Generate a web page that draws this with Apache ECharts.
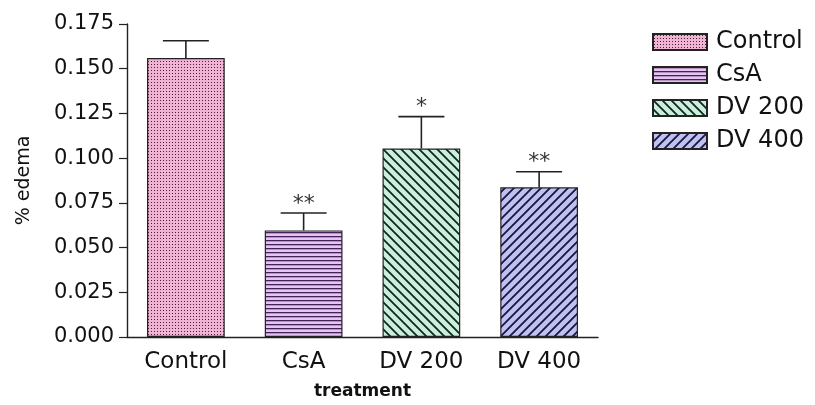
<!DOCTYPE html>
<html>
<head>
<meta charset="utf-8">
<script src="https://cdn.jsdelivr.net/npm/echarts@6/dist/echarts.min.js"></script>
<style>html,body{margin:0;padding:0;background:#fff}#c{width:815px;height:405px}</style>
</head>
<body>
<div id="c"></div>
<script>
// ---- data ----
var categories = ['Control', 'CsA', 'DV 200', 'DV 400'];
var means = [0.156, 0.0596, 0.1054, 0.0837];
var sem = [0.0096, 0.0097, 0.0178, 0.0087];
var signif = ['', '**', '*', '**'];
var yTicks = [0, 0.025, 0.05, 0.075, 0.1, 0.125, 0.15, 0.175];

// ---- patterns (style only) ----
function pat(w, h, bg, draw) {
  var c = document.createElement('canvas');
  c.width = w; c.height = h;
  var g = c.getContext('2d');
  g.fillStyle = bg; g.fillRect(0, 0, w, h);
  draw(g);
  return { image: c, repeat: 'repeat' };
}
function diag(w, bg, fg, back) {
  return pat(w, w, bg, function (g) {
    g.strokeStyle = fg; g.lineWidth = 1.8; g.beginPath();
    for (var k = -1; k <= 1; k++) {
      if (back) { g.moveTo(k * w - 2, -2); g.lineTo(k * w + w + 2, w + 2); }
      else { g.moveTo(k * w - 2, w + 2); g.lineTo(k * w + w + 2, -2); }
    }
    g.stroke();
  });
}
var patterns = [
  pat(3, 3, '#f1b3d3', function (g) { g.fillStyle = '#4a2038'; g.fillRect(1, 1, 1, 1); }),
  pat(4, 4, '#e6c3f0', function (g) { g.fillStyle = '#40245a'; g.fillRect(0, 0, 4, 1.3); }),
  diag(9, '#c9f0dd', '#15241e', true),
  diag(9, '#c0c0f2', '#16163a', false)
];

var font = 'DejaVu Sans, Liberation Sans, sans-serif';
var series = categories.map(function (name, i) {
  var d = categories.map(function (_, j) { return j === i ? means[i] : '-'; });
  return {
    name: name, type: 'bar', data: d, barWidth: '66%', barGap: '-100%',
    itemStyle: { color: patterns[i], borderColor: '#222', borderWidth: 1.2 },
    z: 2
  };
});
series.push({
  type: 'custom', name: 'err', z: 5,
  data: categories.map(function (c, i) { return [i, means[i], sem[i]]; }),
  renderItem: function (params, api) {
    var x = api.value(0), m = api.value(1), e = api.value(2);
    var top = api.coord([x, m]);
    var cap = api.coord([x, m + e]);
    var hw = 23;
    var ch = [
      { type: 'line', shape: { x1: cap[0], y1: top[1], x2: cap[0], y2: cap[1] }, style: { stroke: '#222', lineWidth: 1.6 } },
      { type: 'line', shape: { x1: cap[0] - hw, y1: cap[1], x2: cap[0] + hw, y2: cap[1] }, style: { stroke: '#222', lineWidth: 1.6 } }
    ];
    var s = signif[params.dataIndex];
    if (s) {
      ch.push({ type: 'text', style: { text: s, x: cap[0], y: cap[1] + 2, align: 'center', verticalAlign: 'bottom', font: '22px ' + font, fill: '#333' } });
    }
    return { type: 'group', children: ch };
  }
});

var chart = echarts.init(document.getElementById('c'), null, { renderer: 'canvas' });
chart.setOption({
  animation: false,
  backgroundColor: '#fff',
  grid: { left: 127, right: 217, top: 24, bottom: 66, containLabel: false },
  legend: {
    data: categories, orient: 'vertical', left: 652, top: 30, padding: 0,
    icon: 'rect', itemWidth: 54, itemHeight: 16, itemGap: 9,
    textStyle: { fontFamily: font, fontSize: 24, color: '#111', padding: [0, 0, 0, 4] },
    selectedMode: false
  },
  xAxis: {
    type: 'category', data: categories,
    name: 'treatment', nameLocation: 'middle', nameGap: 46,
    nameTextStyle: { fontFamily: font, fontSize: 17, fontWeight: 'bold', color: '#111' },
    axisLine: { lineStyle: { color: '#222', width: 1.4 } },
    axisTick: { alignWithLabel: true, length: 7, lineStyle: { color: '#222', width: 1.2 } },
    axisLabel: { fontFamily: font, fontSize: 23, color: '#111', margin: 14 }
  },
  yAxis: {
    type: 'value', min: 0, max: 0.175, interval: 0.025,
    name: '% edema', nameLocation: 'middle', nameGap: 93, nameRotate: 90,
    nameTextStyle: { fontFamily: font, fontSize: 19, color: '#111' },
    axisLine: { show: true, lineStyle: { color: '#222', width: 1.4 } },
    axisTick: { show: true, length: 8, lineStyle: { color: '#222', width: 1.2 } },
    splitLine: { show: false },
    axisLabel: { fontFamily: font, fontSize: 21, color: '#111', margin: 13,
      formatter: function (v) { return v.toFixed(3); } }
  },
  series: series
});
</script>
</body>
</html>
